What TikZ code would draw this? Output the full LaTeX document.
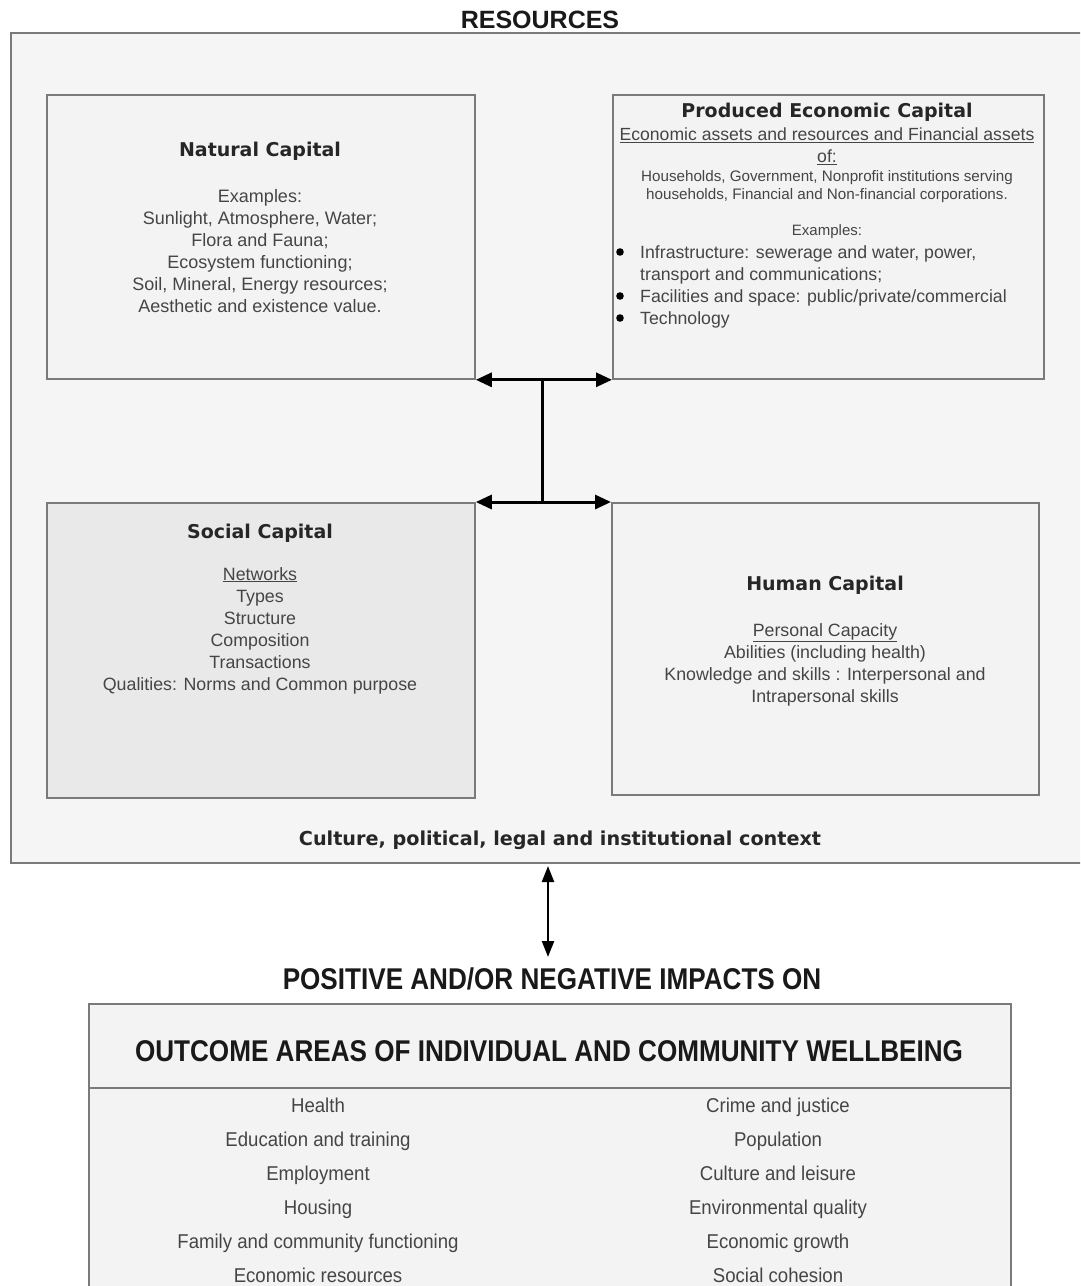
\documentclass[tikz,border=0pt]{standalone}
\usepackage{fontspec}
\setmainfont{Liberation Sans}
\newfontfamily\headfont{DejaVu Sans}
\newfontfamily\condfont[FakeStretch=0.87]{Liberation Sans}
\newfontfamily\condreg[FakeStretch=0.93]{Liberation Sans}
\usetikzlibrary{arrows.meta}
\definecolor{bgout}{HTML}{F5F5F5}
\definecolor{bgbox}{HTML}{F3F3F3}
\definecolor{bgsoc}{HTML}{E9E9E9}
\definecolor{edgec}{HTML}{7A7A7A}
\definecolor{txtc}{HTML}{454545}
\begin{document}
\begin{tikzpicture}[x=1pt,y=-1pt,
  outerbox/.style={draw=edgec, line width=1.8pt, fill=bgout, inner sep=0, anchor=north west},
  capbox/.style={draw=edgec, line width=1.8pt, fill=bgbox, inner sep=0, anchor=north west},
  head/.style={font=\headfont\bfseries\fontsize{19}{23}\selectfont, text=black!85, inner sep=0, anchor=base},
  body/.style={font=\fontsize{17.8}{22}\selectfont, text=txtc, align=center, inner sep=0, anchor=north},
  bulletdot/.style={fill=black},
  conn/.style={line width=3pt, black, {Triangle[length=16pt,width=14pt]}-{Triangle[length=16pt,width=14pt]}},
  plainconn/.style={line width=3pt, black},
  vconn/.style={line width=2.4pt, black, {Triangle[length=16pt,width=12pt]}-{Triangle[length=16pt,width=12pt]}},
  bigcap/.style={font=\condfont\bfseries\fontsize{30}{30}\selectfont, text=black!90, inner sep=0, anchor=base},
  item/.style={font=\condreg\fontsize{20}{34}\selectfont, text=txtc, align=center, inner sep=0, anchor=north}
]
\useasboundingbox (0,0) rectangle (1080,1286);
\fill[white] (0,0) rectangle (1080,1286);
\clip (0,0) rectangle (1080,1286);

% Resources frame
\node[outerbox, minimum width=1085pt, minimum height=830pt] (res) at (10,32) {};
\node[font=\bfseries\fontsize{25}{25}\selectfont, text=black!90, inner sep=0, anchor=base] (restitle) at (540,28) {RESOURCES};

% Capital boxes
\node[capbox, minimum width=428pt, minimum height=284pt] (nat) at (46,94) {};
\node[capbox, minimum width=431pt, minimum height=284pt] (prod) at (612,94) {};
\node[capbox, fill=bgsoc, minimum width=428pt, minimum height=295pt] (soc) at (46,502) {};
\node[capbox, minimum width=427pt, minimum height=292pt] (hum) at (611,502) {};

% Natural capital
\node[head] (nath) at (260,156) {Natural Capital};
\node[body, font=\fontsize{18}{22}\selectfont] (natt) at (260,189) {Examples:\\Sunlight, Atmosphere, Water;\\Flora and Fauna;\\Ecosystem functioning;\\Soil, Mineral, Energy resources;\\Aesthetic and existence value.};

% Produced economic capital
\node[head] (prodh) at (827,117) {Produced Economic Capital};
\node[body, font=\fontsize{17.6}{22}\selectfont] (produ) at (827,128) {\underline{Economic assets and resources and Financial assets}\\\underline{of:}};
\node[body, font=\fontsize{15.2}{18}\selectfont] (prodhh) at (827,170) {Households, Government, Nonprofit institutions serving\\households, Financial and Non-financial corporations.};
\node[body, font=\fontsize{15}{18}\selectfont, anchor=base] (prodex) at (827,235) {Examples:};
\node[body, font=\fontsize{17.7}{22}\selectfont, align=left, anchor=north west] (prodb) at (640,245) {Infrastructure: sewerage and water, power,\\transport and communications;\\Facilities and space: public/private/commercial\\Technology};
\fill[bulletdot] (620,252) circle (3.8);
\fill[bulletdot] (620,296) circle (3.8);
\fill[bulletdot] (620,318) circle (3.8);

% Social capital
\node[head] (soch) at (260,538) {Social Capital};
\node[body] (soct) at (260,567) {\underline{Networks}\\Types\\Structure\\Composition\\Transactions\\Qualities: Norms and Common purpose};

% Human capital
\node[head] (humh) at (825,590) {Human Capital};
\node[body] (humt) at (825,623) {\underline{Personal Capacity}\\Abilities (including health)\\Knowledge and skills : Interpersonal and\\Intrapersonal skills};

% Connectors between capitals
\coordinate (jt) at (542,378);
\coordinate (jb) at (542,502);
\draw[conn] (nat.south east) -- (prod.south west);
\draw[conn] (soc.north east) -- (hum.north west);
\draw[plainconn] (jt) -- (jb);

% Context
\node[head, font=\headfont\bfseries\fontsize{19.2}{22}\selectfont] (ctx) at (560,845) {Culture, political, legal and institutional context};

% Impacts
\coordinate (ua) at (548,866);
\coordinate (ub) at (548,957);
\draw[vconn] (ua) -- (ub);
\node[bigcap] (pos) at (552,989) {POSITIVE AND/OR NEGATIVE IMPACTS ON};

% Outcome box
\node[capbox, fill=bgbox, minimum width=922pt, minimum height=330pt] (out) at (88,1003) {};
\node[bigcap] (outh) at (549,1061) {OUTCOME AREAS OF INDIVIDUAL AND COMMUNITY WELLBEING};
\draw[draw=edgec, line width=1.8pt] (out.west |- 0,1088) -- (out.east |- 0,1088);
\node[item] (outl) at (318,1098) {Health\\Education and training\\Employment\\Housing\\Family and community functioning\\Economic resources};
\node[item] (outr) at (778,1098) {Crime and justice\\Population\\Culture and leisure\\Environmental quality\\Economic growth\\Social cohesion};
\end{tikzpicture}
\end{document}
